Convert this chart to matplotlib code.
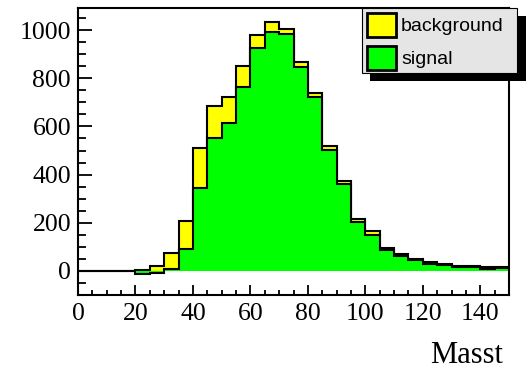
import numpy as np
import matplotlib.pyplot as plt
from matplotlib.patches import Rectangle
from matplotlib.ticker import MultipleLocator

# bin edges 0..150, width 5
edges = np.arange(0, 155, 5)
signal = [0, 0, 0, 0, -12, -8, 10, 89, 346, 554, 615, 765, 924, 994, 986,
          845, 723, 503, 360, 202, 151, 86, 64, 44, 29, 24, 17, 17, 10, 14]
total = [0, 0, 0, 0, 2, 22, 76, 209, 511, 687, 723, 850, 978, 1033, 1006,
         866, 738, 519, 374, 216, 165, 97, 72, 51, 35, 28, 19, 19, 17, 17]
labels = ['background', 'signal']
colors = ['#ffff00', '#00ff00']

W, H = 528, 371
fig = plt.figure(figsize=(W / 100, H / 100), dpi=100)
ax = fig.add_axes([78 / W, 1 - 295 / H, (509 - 78) / W, (295 - 8) / H])

ax.stairs(total, edges, fill=True, color=colors[0], baseline=0)
ax.stairs(total, edges, baseline=None, color='black', lw=1.5)
ax.stairs(signal, edges, fill=True, color=colors[1], baseline=0)
ax.stairs(signal, edges, baseline=None, color='black', lw=1.5)

ax.set_xlim(0, 150)
ax.set_ylim(-100, 1092)
ax.xaxis.set_major_locator(MultipleLocator(20))
ax.xaxis.set_minor_locator(MultipleLocator(5))
ax.yaxis.set_major_locator(MultipleLocator(200))
ax.yaxis.set_minor_locator(MultipleLocator(50))
ax.tick_params(axis='y', which='major', direction='in', length=10, width=1.3, pad=5)
ax.tick_params(axis='y', which='minor', direction='in', length=6, width=1.3)
ax.tick_params(axis='x', which='major', direction='in', length=7, width=1.3, pad=6)
ax.tick_params(axis='x', which='minor', direction='in', length=3.6, width=1.3)
for lab in ax.get_xticklabels() + ax.get_yticklabels():
    lab.set_fontfamily('Liberation Serif')
    lab.set_fontsize(18.5)
for s in ax.spines.values():
    s.set_linewidth(1.5)

fig.text(503 / W, 1 - 363 / H, 'Masst', family='Liberation Serif', fontsize=22,
         ha='right', va='baseline')

# legend box with shadow, in figure pixels
def px(x, y, w, h, **kw):
    return Rectangle((x / W, 1 - (y + h) / H), w / W, h / H,
                     transform=fig.transFigure, **kw)

fig.add_artist(px(370, 16, 156, 65, facecolor='black', edgecolor='none'))
fig.add_artist(px(362, 8, 155, 65, facecolor='#e5e5e5', edgecolor='black', lw=0.8))
for i, (lab, c) in enumerate(zip(labels, colors)):
    y0 = 13 + i * 33
    fig.add_artist(px(367, y0, 29, 24, facecolor=c, edgecolor='black', lw=2))
    fig.text(401 / W, 1 - (y0 + 18) / H, lab, family='Liberation Sans',
             fontsize=14, va='baseline')

fig.savefig('out.png', dpi=100)
